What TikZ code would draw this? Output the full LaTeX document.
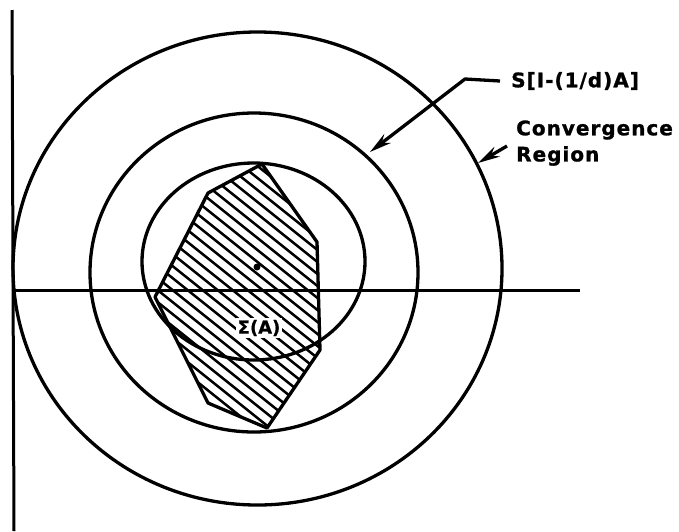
\documentclass[tikz,border=0pt]{standalone}
\usepackage{fontspec}
\setmainfont{DejaVu Sans}
\newfontfamily\lblfont{DejaVu Sans Bold}[LetterSpace=5,FakeBold=1.2]
\newfontfamily\sigfont{DejaVu Sans Bold}[FakeBold=0.8]
\usetikzlibrary{arrows.meta}
\begin{document}
\begin{tikzpicture}[x=1pt,y=-1pt,
  curve/.style={line width=3.3pt},
  axis/.style={line width=3pt},
  hatchline/.style={line width=2.5pt},
  lbl/.style={font=\lblfont\fontsize{20}{24}\selectfont, anchor=west, inner sep=0pt},
  ptr/.style={line width=3.3pt, -{Stealth[length=22pt,width=11pt]}}]
\useasboundingbox (0,0) rectangle (679,531);
% axes
\coordinate (vtop) at (12,10);
\coordinate (vbot) at (14,531);
\coordinate (hl) at (12,290.5);
\coordinate (hr) at (580,290.5);
\draw[axis] (vtop) -- (vbot);
\draw[axis] (hl) -- (hr);
% circles
\coordinate (cOut) at (257.5,268.5);
\coordinate (cMid) at (254,272.5);
\coordinate (cIn) at (253.5,261.5);
\draw[curve] (cOut) ellipse [x radius=244.5, y radius=236.5];
\draw[curve] (cMid) ellipse [x radius=164, y radius=159.5];
\draw[curve] (cIn) ellipse [x radius=111.5, y radius=98.5];
% polygon
\coordinate (p1) at (262,164);
\coordinate (p2) at (317,242);
\coordinate (p3) at (320,350);
\coordinate (p4) at (267,428);
\coordinate (p5) at (208,403);
\coordinate (p6) at (155,297);
\coordinate (p7) at (208,193);
\begin{scope}
  \clip (p1) -- (p2) -- (p3) -- (p4) -- (p5) -- (p6) -- (p7) -- cycle;
  \foreach \c in {-100,-88,...,330}
    \draw[hatchline] (140,{0.8*140+\c}) -- (330,{0.8*330+\c});
\end{scope}
\draw[curve, line join=round] (p1) -- (p2) -- (p3) -- (p4) -- (p5) -- (p6) -- (p7) -- cycle;
% centre dot
\fill (257,267) circle [radius=3.5];
\node[fill=white, inner sep=1.5pt, font=\sigfont\fontsize{18}{20}\selectfont] (sig) at (259,328) {Σ(A)};
% labels
\node[lbl] (lS) at (511,81) {S[I-(1/d)A]};
\node[lbl] (lC) at (516,130) {Convergence};
\node[lbl] (lR) at (516,156) {Region};
% arrows
\coordinate (b1) at (465,79);
\coordinate (t1) at (370,152);
\draw[ptr, line join=round] ([xshift=-11pt]lS.west) -- (b1) -- (t1);
\coordinate (s2) at (507,146);
\coordinate (t2) at (478,163);
\draw[ptr] (s2) -- (t2);
\end{tikzpicture}
\end{document}
